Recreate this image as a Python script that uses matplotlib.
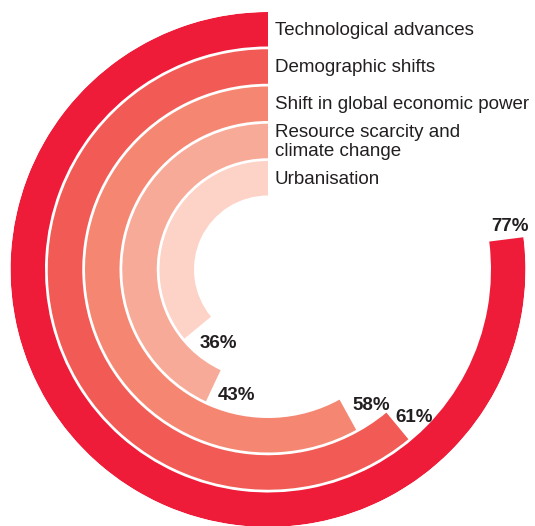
import matplotlib.pyplot as plt
import numpy as np

# data (outermost ring first)
drivers = ['Technological advances', 'Demographic shifts', 'Shift in global economic power',
           'Resource scarcity and\nclimate change', 'Urbanisation']
shares = [77, 61, 58, 43, 36]
pct_labels = ['77%', '61%', '58%', '43%', '36%']

colors = ['#EE1C39', '#F15A55', '#F58672', '#F8AA98', '#FDD3C8']
txt_col = '#231F20'

# ring geometry in pixels (axes radius = r_outer px)
r_outer = 257.5
pitch = 37.25
ring_w = 34.5
# label nudges past bar end: (degrees, radius)
nudge = [(2.9, 246), (5.1, 208), (8.3, 171), (11.2, 130), (16.3, 89)]

plt.rcParams['font.family'] = ['Liberation Sans', 'DejaVu Sans']

W, H = 535, 526
fig = plt.figure(figsize=(W / 100, H / 100), dpi=100)
cx, cy = 268, 526 - 269.5
ax = fig.add_axes([(cx - r_outer) / W, (cy - r_outer) / H, 2 * r_outer / W, 2 * r_outer / H],
                  projection='polar')
ax.set_theta_zero_location('N')
ax.set_theta_direction(1)
ax.set_ylim(0, r_outer)
ax.set_axis_off()

for i, (name, val) in enumerate(zip(drivers, shares)):
    top = r_outer - i * pitch
    bottom = top - ring_w
    ax.bar(0, ring_w, width=val / 100 * 2 * np.pi, bottom=bottom,
           align='edge', color=colors[i], linewidth=0)
    ax.annotate(name, xy=(0, bottom + ring_w / 2), xytext=(7, -1),
                textcoords='offset pixels', ha='left', va='center',
                fontsize=13.5, color=txt_col, linespacing=1.15)
    d, r = nudge[i]
    ax.text(val / 100 * 2 * np.pi + np.radians(d), r, pct_labels[i],
            ha='center', va='center', fontsize=13.5, fontweight='bold', color=txt_col)

fig.savefig('out.png', dpi=100)
